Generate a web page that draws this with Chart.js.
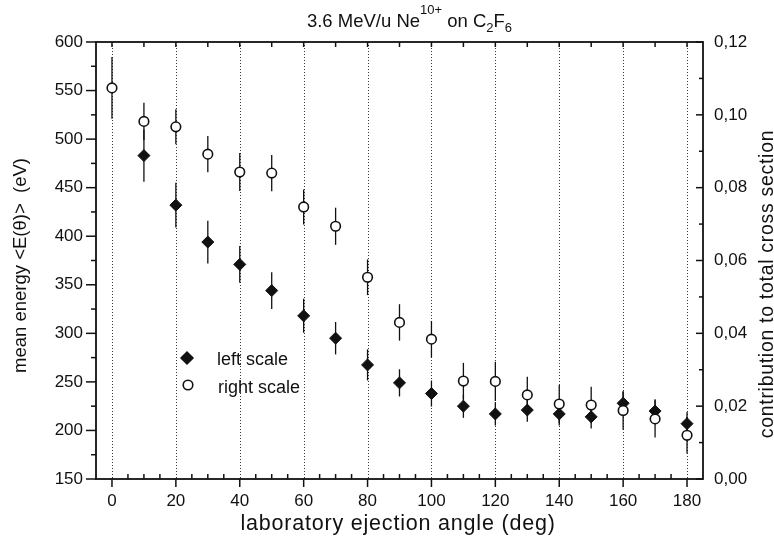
<!DOCTYPE html>
<html>
<head>
<meta charset="utf-8">
<script src="https://cdn.jsdelivr.net/npm/chart.js@4.4.1/dist/chart.umd.min.js"></script>
<style>
  html, body { margin: 0; background: #fff; }
  #wrap { width: 774px; height: 540px; }
</style>
</head>
<body>
<div id="wrap"><canvas id="chart" width="774" height="540"></canvas></div>
<script>
  // ejection angles (deg)
  const angles = [0, 10, 20, 30, 40, 50, 60, 70, 80, 90, 100, 110, 120, 130, 140, 150, 160, 170, 180];
  // mean energy <E(theta)> in eV, left scale (no point at 0 deg)
  const meanEnergy = [null, 483, 432, 394, 371, 344, 318, 295, 267.5, 249, 238, 225, 217, 221, 217, 214, 228, 220, 207];
  const meanEnergyErr = [null, 27, 23, 22, 19, 19, 17.5, 16.7, 16, 14, 13.4, 12, 12, 12, 12, 12, 12, 12, 12];
  // contribution to total cross section, right scale
  const contribution = [0.1074, 0.0982, 0.0967, 0.0892, 0.0843, 0.0840, 0.0747, 0.0694, 0.0554, 0.0430, 0.0384, 0.0269, 0.0268, 0.0231, 0.0206, 0.0203, 0.0188, 0.0165, 0.0120];
  const contributionErr = [0.0085, 0.0051, 0.0048, 0.0050, 0.0052, 0.0050, 0.0048, 0.0051, 0.0049, 0.0050, 0.0050, 0.0050, 0.0054, 0.0050, 0.0052, 0.0050, 0.0053, 0.0051, 0.0050];

  const xTicks = [0, 20, 40, 60, 80, 100, 120, 140, 160, 180];
  const leftTicks = [150, 200, 250, 300, 350, 400, 450, 500, 550, 600];
  const rightTicks = [0, 0.02, 0.04, 0.06, 0.08, 0.10, 0.12];
  const rightTickLabels = ['0,00', '0,02', '0,04', '0,06', '0,08', '0,10', '0,12'];

  const FONT = '"Liberation Sans", Arial, sans-serif';
  const INK = '#111';

  function pts(values) {
    return angles.map((a, i) => ({ x: a, y: values[i] })).filter(p => p.y !== null);
  }
  function errs(values, errors) {
    return errors.filter((e, i) => values[i] !== null);
  }

  function line(ctx, x1, y1, x2, y2) {
    ctx.beginPath(); ctx.moveTo(x1, y1); ctx.lineTo(x2, y2); ctx.stroke();
  }

  // dotted verticals at the labelled angles, then the error bars
  const underlay = {
    id: 'underlay',
    beforeDatasetsDraw(chart) {
      const { ctx, chartArea: a, scales } = chart;
      ctx.save();
      ctx.strokeStyle = '#333';
      ctx.lineWidth = 1;
      ctx.setLineDash([1, 2]);
      xTicks.forEach(v => {
        const px = Math.round(scales.x.getPixelForValue(v)) + 0.5;
        line(ctx, px, a.top, px, a.bottom);
      });
      ctx.setLineDash([]);
      ctx.strokeStyle = INK;
      ctx.lineWidth = 1.3;
      chart.data.datasets.forEach(ds => {
        const ys = scales[ds.yAxisID];
        ds.data.forEach((p, i) => {
          const e = ds.errors[i];
          const px = scales.x.getPixelForValue(p.x);
          line(ctx, px, ys.getPixelForValue(p.y + e), px, ys.getPixelForValue(p.y - e));
        });
      });
      ctx.restore();
    }
  };

  // frame, tick marks, titles and the in-plot key
  const overlay = {
    id: 'overlay',
    afterDraw(chart) {
      const { ctx, chartArea: a, scales } = chart;
      const x = scales.x, yl = scales.yL, yr = scales.yR;
      ctx.save();
      ctx.strokeStyle = INK;
      ctx.lineWidth = 1.8;
      ctx.strokeRect(a.left, a.top, a.right - a.left, a.bottom - a.top);

      ctx.lineWidth = 1.5;
      for (let v = 150; v <= 600; v += 25) {
        const py = yl.getPixelForValue(v);
        line(ctx, a.left - (v % 50 === 0 ? 10 : 5), py, a.left, py);
      }
      for (let k = 0; k <= 12; k++) {
        const py = yr.getPixelForValue(k / 100);
        line(ctx, a.right - (k % 2 === 0 ? 7 : 4), py, a.right, py);
      }
      for (let v = 0; v <= 180; v += 5) {
        const px = x.getPixelForValue(v);
        if (v % 20 === 0) line(ctx, px, a.bottom, px, a.bottom + 8);
        else line(ctx, px, a.bottom - 5, px, a.bottom);
        if (v % 10 === 0) line(ctx, px, a.top, px, a.top + 5);
      }

      ctx.fillStyle = INK;
      ctx.textBaseline = 'alphabetic';
      // plot title with super- and subscripts
      const runs = [
        { t: '3.6 MeV/u Ne', s: 18.5, dy: 0 },
        { t: '10+', s: 13, dy: -13 },
        { t: ' on C', s: 18.5, dy: 0 },
        { t: '2', s: 13, dy: 4.5 },
        { t: 'F', s: 18.5, dy: 0 },
        { t: '6', s: 13, dy: 4.5 }
      ];
      let w = 0;
      runs.forEach(r => { ctx.font = r.s + 'px ' + FONT; r.w = ctx.measureText(r.t).width; w += r.w; });
      let cx = 409.5 - w / 2;
      ctx.textAlign = 'left';
      runs.forEach(r => { ctx.font = r.s + 'px ' + FONT; ctx.fillText(r.t, cx, 27 + r.dy); cx += r.w; });

      // axis titles
      ctx.textAlign = 'center';
      ctx.textBaseline = 'middle';
      ctx.font = '21.5px ' + FONT;
      ctx.letterSpacing = '0.8px';
      ctx.fillText('laboratory ejection angle (deg)', 398, 524);
      ctx.letterSpacing = '0px';
      ctx.font = '18.5px ' + FONT;
      ctx.save();
      ctx.translate(21, 265.5); ctx.rotate(-Math.PI / 2);
      ctx.fillText('mean energy <E(\u03b8)>  (eV)', 0, 0);
      ctx.restore();
      ctx.font = '19.5px ' + FONT;
      ctx.textBaseline = 'alphabetic';
      ctx.save();
      ctx.letterSpacing = '0.7px';
      ctx.translate(772.5, 284); ctx.rotate(-Math.PI / 2);
      ctx.fillText('contribution to total cross section', 0, 0);
      ctx.restore();
      ctx.letterSpacing = '0px';

      // key
      const [circles, diamonds] = chart.data.datasets;
      Chart.helpers.drawPoint(ctx, { pointStyle: 'rectRot', radius: diamonds.pointRadius, borderWidth: 1 }, 187, 358);
      ctx.fillStyle = INK;
      ctx.fill();
      ctx.fillStyle = '#fff';
      ctx.strokeStyle = INK;
      ctx.lineWidth = circles.borderWidth;
      Chart.helpers.drawPoint(ctx, { pointStyle: 'circle', radius: circles.pointRadius, borderWidth: circles.borderWidth }, 188, 385);
      ctx.fillStyle = INK;
      ctx.font = '18px ' + FONT;
      ctx.textAlign = 'left';
      ctx.textBaseline = 'alphabetic';
      ctx.fillText('left scale', 217, 365);
      ctx.fillText('right scale', 218, 392.5);
      ctx.restore();
    }
  };

  const tickFont = { family: FONT, size: 17 };

  new Chart(document.getElementById('chart'), {
    type: 'scatter',
    data: {
      datasets: [
        {
          label: 'right scale',
          data: pts(contribution),
          errors: errs(contribution, contributionErr),
          yAxisID: 'yR',
          pointStyle: 'circle',
          pointRadius: 4.8,
          backgroundColor: '#fff',
          borderColor: INK,
          borderWidth: 1.6
        },
        {
          label: 'left scale',
          data: pts(meanEnergy),
          errors: errs(meanEnergy, meanEnergyErr),
          yAxisID: 'yL',
          pointStyle: 'rectRot',
          pointRadius: 6,
          backgroundColor: INK,
          borderColor: INK,
          borderWidth: 1
        }
      ]
    },
    options: {
      responsive: false,
      animation: false,
      devicePixelRatio: 1,
      layout: { padding: { top: 42, left: 0, right: 0, bottom: 0 } },
      plugins: { legend: { display: false }, tooltip: { enabled: false } },
      elements: { point: { hoverRadius: 6 } },
      scales: {
        x: {
          type: 'linear', position: 'bottom', min: -5, max: 185,
          grid: { display: false }, border: { display: false },
          afterBuildTicks: s => { s.ticks = xTicks.map(v => ({ value: v })); },
          afterFit: s => { s.height = 61; },
          ticks: { font: tickFont, color: INK, padding: 4, maxRotation: 0 }
        },
        yL: {
          type: 'linear', position: 'left', min: 150, max: 600,
          grid: { display: false }, border: { display: false },
          afterBuildTicks: s => { s.ticks = leftTicks.map(v => ({ value: v })); },
          afterFit: s => { s.width = 96; },
          ticks: { font: tickFont, color: INK, padding: 5 }
        },
        yR: {
          type: 'linear', position: 'right', min: 0, max: 0.12,
          grid: { display: false }, border: { display: false },
          afterBuildTicks: s => { s.ticks = rightTicks.map(v => ({ value: v })); },
          afterFit: s => { s.width = 71; },
          ticks: { font: tickFont, color: INK, padding: 3, callback: (v, i) => rightTickLabels[i] }
        }
      }
    },
    plugins: [underlay, overlay]
  });
</script>
</body>
</html>
